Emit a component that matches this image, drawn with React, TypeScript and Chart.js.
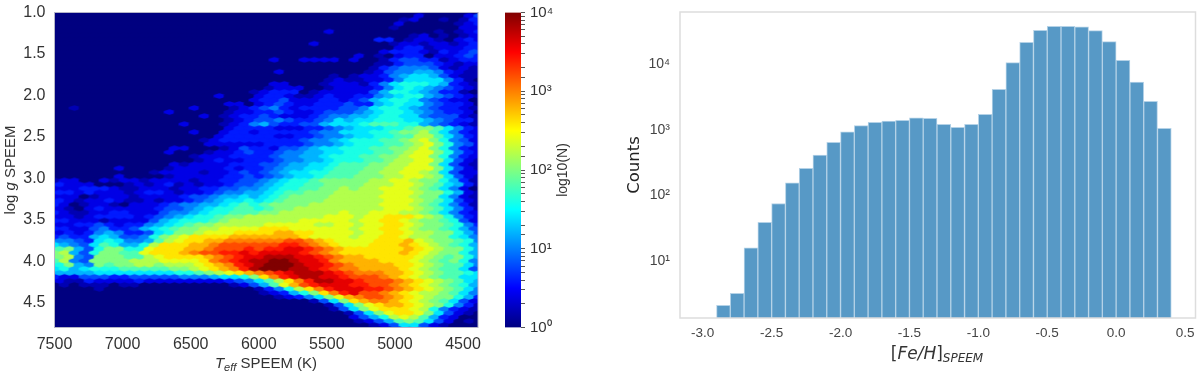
import React, { useEffect, useRef } from "react";
import { Chart, registerables } from "chart.js";

Chart.register(...registerables);

// ---------- left panel: hexbin levels, one character per cell (base 36), level / 20 = log10(N) / 4
const hexRows = [
  "0000000000 0000000000 0000000000 0000000000 000",
  "0000000000 0000000000 0000000000 0000002000 024",
  "0000000000 0000000000 0000000000 0000012001 013",
  "0000000000 0000000000 0000000000 0000200000 123",
  "0000000000 0000000000 0000000000 0000100000 022",
  "0000000000 0000000000 0000000200 0000000010 123",
  "0000000000 0000000000 0000000000 0000001201 012",
  "0000000000 0000000000 0000000000 0033012210 232",
  "0000000000 0000000000 0000002000 0000122122 123",
  "0000000000 0000000000 0000000000 0000233122 233",
  "0000000000 0000000000 0000000000 0002333213 234",
  "0000000000 0000000000 0000000000 2010233022 343",
  "0000000000 0000000000 0020022220 2001344331 233",
  "0000000000 0000000000 0000000000 0011344432 122",
  "0000000000 0000000000 0000000000 0013455542 121",
  "0000000000 0000000000 0020000000 0124556653 211",
  "0000000000 0000000000 0000000010 1223567764 211",
  "0000000000 0000000000 0000000121 1223577775 310",
  "0000000000 0000000000 0022000122 2135788876 321",
  "0000000000 0000000000 0122200122 2235787654 321",
  "0000000000 0000000000 1233301222 2246887653 310",
  "0000000000 0000002000 2332112322 3356788654 321",
  "0000000000 0000000000 2334222332 3467887543 220",
  "0000000000 0000000220 2343223334 3367877543 320",
  "0010000000 0000200012 3453233334 4578876543 321",
  "0000000000 0200000122 3343223444 5678876543 320",
  "0000000000 0000020123 3432223455 6678877544 421",
  "0000000000 0000000123 4454334576 7788877654 331",
  "0000000000 0002000123 5643344677 7899988654 321",
  "0000000000 0000000233 3322233456 777889aa97 532",
  "0000000000 0000200233 2333334557 77889aab97 532",
  "0000000000 0000002333 3322334556 778899bb97 532",
  "0000000000 0000012333 3333345567 88899abca8 542",
  "0000000000 0000022222 2333345567 88899abca8 542",
  "0000000000 0022000124 3324456778 8899aabca8 532",
  "0000000000 0200012234 3345566778 8899abcca8 532",
  "0000000000 0000122233 3345566788 899aabcca8 532",
  "0000000000 0000123223 3345566788 899abbcca7 421",
  "0000000000 0021222233 3445667789 99aabbcca7 421",
  "0000002000 0122222323 3456677899 9aabbccca7 421",
  "0000000000 1222212234 3456778899 9aabbccba7 422",
  "0000002000 0122222334 3456778999 aaabbccba7 421",
  "1220021221 2222122334 4567889aaa aabbccbaa8 631",
  "3222000121 2312122344 5678899aaa abbbccba97 631",
  "2223332112 2212233445 5678899aab abbcccba97 520",
  "3323222123 3212234556 67899aaabb bbbcccbaa8 621",
  "2220122212 2223445667 6789aaaabb bbbcccbaa7 521",
  "3212232112 1223456778 789aaaabbb bbbcccba97 421",
  "3201221022 2345566789 89aaaabbbb bbbcccba97 531",
  "2102322222 3445678899 89aabbbbbb bbbcccba97 531",
  "3211223322 2455678899 9aabbbbbbc bbcccbba97 532",
  "2212333323 4567889aab bbbbbbbccc bccdddcba8 532",
  "3322212222 4678889abb bbbbbccccc bccddcbaa9 842",
  "2233432335 6789aabbbb bcccccbbcc bccddcbaa9 853",
  "3322453346 789aabbccc cdddcccccc bccddcbaa9 864",
  "2323565334 78aabcccdd ddeeddcccc bccddcbbaa 864",
  "3433676445 8abcddddee eeeeedcccc bccddcbbaa 875",
  "5543787556 9bcddeefff fffggfedcc ccdddecbaa 985",
  "7654798668 bdddeefggg ggghhgfedc ccdddedcba 986",
  "9a648aa88c dddeefgggh ghhiihgfed dddddedcba a86",
  "ab648aa99c dddefgghhi hiiiihgfed dddddedcba a86",
  "ab54aaa99b cddddefghi ijjjiihgfe edddddcba9 a86",
  "9b54aaaabb bccccdfghi jjkkjiihfe eeedddcba9 a85",
  "8a65a9aabb abbbcdefhi jkkkjiihgf eeeeddcba9 975",
  "7867888999 99aabcdefh jkkkjjihgf feeeedcba9 974",
  "6666777777 77889abcde fghijjjihg fffeedcba9 987",
  "3224443344 4445556778 adfhijjiih gggfedcba9 977",
  "2113222232 2222222345 79bdfhjjii hgggfedcba 976",
  "0101110110 0000000012 469ceghiii hhggfedcba 986",
  "0000100000 0000000000 1358bdfhii ihhgfedcba 975",
  "0000000000 0000000000 012368adfh iggfedcbba 975",
  "0000000000 0000000000 0012357ace fggfedcbaa 863",
  "0000000000 0000000000 000000147a deffedcba9 742",
  "0000000000 0000000000 0000000147 acdeedcba8 531",
  "0000000000 0000000000 0000000014 7acdddcb85 321",
  "0000000000 0000000000 0000000001 47acddca74 210",
  "0000000000 0000000000 0000000000 2468bcb963 200",
  "0000000000 0000000000 0000000000 12469a9742 010",
  "0000000000 0000000000 0000000000 0012477421 000",
  "0000000000 0000000000 0000000000 0001365320 000",
];
const teffStart = 7500;
const teffStep = 73.4;
const loggStart = 1.0;
const loggStep = 0.0485;
const teffTicks = [7500, 7000, 6500, 6000, 5500, 5000, 4500];
const loggTicks = [1.0, 1.5, 2.0, 2.5, 3.0, 3.5, 4.0, 4.5];

// ---------- colour bar
const colorbarRange = [1, 10000];
const colorbarDecades = ["10⁰", "10¹", "10²", "10³", "10⁴"];

// ---------- right panel: histogram
const fehBins = [
  -2.9, -2.8, -2.7, -2.6, -2.5, -2.4, -2.3, -2.2, -2.1, -2.0, -1.9, -1.8, -1.7, -1.6, -1.5, -1.4, -1.3,
  -1.2, -1.1, -1.0, -0.9, -0.8, -0.7, -0.6, -0.5, -0.4, -0.3, -0.2, -0.1, 0.0, 0.1, 0.2, 0.3,
];
const fehCounts = [
  2.1, 3.2, 15.8, 38.6, 75, 155, 257, 410, 640, 930, 1150, 1290, 1350, 1390, 1520, 1490, 1205,
  1085, 1205, 1710, 4110, 10470, 21400, 32700, 37600, 37600, 37000, 32200, 21900, 11400, 5320, 2700, 1047,
];
const fehWidth = 0.1;
const countTicks = [10, 100, 1000, 10000];
const countLabels: Record<number, string> = { 10: "10¹", 100: "10²", 1000: "10³", 10000: "10⁴" };

const SANS = "'Liberation Sans', Arial, sans-serif";
const DEJAVU = "'DejaVu Sans', sans-serif";

function jet(t: number): string {
  const c = (v: number) => Math.round(255 * Math.max(0, Math.min(1, v)));
  const r = 1.5 - Math.abs(4 * t - 3);
  const g = 1.5 - Math.abs(4 * t - 2);
  const b = 1.5 - Math.abs(4 * t - 1);
  return `rgb(${c(r)},${c(g)},${c(b)})`;
}

function hexSprite(color: string): HTMLCanvasElement {
  const w = 14;
  const h = 10;
  const cv = document.createElement("canvas");
  cv.width = w;
  cv.height = h;
  const g = cv.getContext("2d")!;
  const cx = w / 2;
  const cy = h / 2;
  g.beginPath();
  g.moveTo(cx + 5.7, cy - 1.9);
  g.lineTo(cx + 5.7, cy + 1.9);
  g.lineTo(cx, cy + 3.8);
  g.lineTo(cx - 5.7, cy + 1.9);
  g.lineTo(cx - 5.7, cy - 1.9);
  g.lineTo(cx, cy - 3.8);
  g.closePath();
  g.fillStyle = color;
  g.fill();
  return cv;
}

type Run = { text: string; font: string; dy?: number };

function drawRuns(ctx: CanvasRenderingContext2D, x: number, y: number, runs: Run[], color: string, rotate = false) {
  ctx.save();
  ctx.translate(x, y);
  if (rotate) ctx.rotate(-Math.PI / 2);
  ctx.fillStyle = color;
  ctx.textBaseline = "alphabetic";
  ctx.textAlign = "left";
  let total = 0;
  for (const r of runs) {
    ctx.font = r.font;
    total += ctx.measureText(r.text).width;
  }
  let p = -total / 2;
  for (const r of runs) {
    ctx.font = r.font;
    ctx.fillText(r.text, p, r.dy ?? 0);
    p += ctx.measureText(r.text).width;
  }
  ctx.restore();
}

function framePlugin(color: string, width: number, fill?: string) {
  return {
    id: "frame",
    beforeDatasetsDraw(chart: any) {
      if (!fill) return;
      const { ctx, chartArea: a } = chart;
      ctx.save();
      ctx.fillStyle = fill;
      ctx.fillRect(a.left, a.top, a.right - a.left, a.bottom - a.top);
      ctx.restore();
    },
    afterDatasetsDraw(chart: any) {
      const { ctx, chartArea: a } = chart;
      ctx.save();
      ctx.strokeStyle = color;
      ctx.lineWidth = width;
      ctx.strokeRect(a.left, a.top, a.right - a.left, a.bottom - a.top);
      ctx.restore();
    },
  };
}

function titlesPlugin(draw: (ctx: CanvasRenderingContext2D) => void) {
  return {
    id: "titles",
    afterDraw(chart: any) {
      draw(chart.ctx);
    },
  };
}

function pinBox(s: any, size: { width?: number; height?: number }) {
  if (size.width !== undefined) s.width = size.width;
  if (size.height !== undefined) s.height = size.height;
  s.paddingTop = 0;
  s.paddingBottom = 0;
  s.paddingLeft = 0;
  s.paddingRight = 0;
}

export default function App() {
  const hexRef = useRef<HTMLCanvasElement>(null);
  const barRef = useRef<HTMLCanvasElement>(null);
  const histRef = useRef<HTMLCanvasElement>(null);

  useEffect(() => {
    const sprites = Array.from({ length: 21 }, (_, i) => hexSprite(jet(i / 20)));
    const cells: { x: number; y: number; level: number }[] = [];
    hexRows.forEach((row, k) => {
      const chars = row.replace(/ /g, "");
      for (let i = 0; i < chars.length; i++) {
        const shift = k % 2 === 1 ? 0.5 : 0;
        cells.push({
          x: teffStart - (i + shift) * teffStep,
          y: loggStart + k * loggStep,
          level: parseInt(chars[i], 36),
        });
      }
    });

    const hexChart = new Chart(hexRef.current!, {
      type: "scatter",
      data: {
        datasets: [
          {
            data: cells as any,
            clip: 0 as any,
            pointStyle: ((c: any) => sprites[(c.raw && c.raw.level) || 0]) as any,
            pointRadius: 5,
            pointHoverRadius: 5,
          },
        ],
      },
      options: {
        animation: false,
        responsive: false,
        events: [],
        layout: { padding: { top: 12.5, right: 17, left: 0, bottom: 0 } },
        plugins: { legend: { display: false }, tooltip: { enabled: false } },
        scales: {
          x: {
            type: "linear",
            reverse: true,
            min: 4390,
            max: 7500,
            afterBuildTicks: (s: any) => {
              s.ticks = teffTicks.map((value) => ({ value }));
            },
            afterFit: (s: any) => pinBox(s, { height: 48.5 }),
            grid: { display: false, drawTicks: false },
            border: { display: false },
            ticks: {
              font: { family: SANS, size: 16 },
              color: "#333333",
              padding: 7,
              maxRotation: 0,
              callback: (v: any) => String(v),
            },
          },
          y: {
            type: "linear",
            reverse: true,
            min: 1,
            max: 4.8,
            afterBuildTicks: (s: any) => {
              s.ticks = loggTicks.map((value) => ({ value }));
            },
            afterFit: (s: any) => pinBox(s, { width: 54.5 }),
            grid: { display: false, drawTicks: false },
            border: { display: false },
            ticks: {
              font: { family: SANS, size: 16 },
              color: "#333333",
              padding: 9,
              callback: (v: any) => Number(v).toFixed(1),
            },
          },
        },
      },
      plugins: [
        framePlugin("#b4b4c8", 1, "#00007f"),
        titlesPlugin((ctx) => {
          drawRuns(
            ctx,
            266,
            368,
            [
              { text: "T", font: `italic 15px ${SANS}` },
              { text: "eff", font: `italic 11px ${SANS}`, dy: 3 },
              { text: " SPEEM (K)", font: `15px ${SANS}` },
            ],
            "#333333"
          );
          drawRuns(
            ctx,
            15,
            170,
            [
              { text: "log ", font: `15px ${SANS}` },
              { text: "g", font: `italic 15px ${SANS}` },
              { text: " SPEEM", font: `15px ${SANS}` },
            ],
            "#333333",
            true
          );
        }),
      ],
    } as any);

    const barChart = new Chart(barRef.current!, {
      type: "bar",
      data: {
        labels: ["N"],
        datasets: [
          {
            data: [colorbarRange as any],
            barPercentage: 1,
            categoryPercentage: 1,
            backgroundColor: (c: any) => {
              const a = c.chart.chartArea;
              if (!a) return "#000080";
              const g = c.chart.ctx.createLinearGradient(0, a.bottom, 0, a.top);
              for (let i = 0; i <= 32; i++) g.addColorStop(i / 32, jet(i / 32));
              return g;
            },
          },
        ],
      },
      options: {
        animation: false,
        responsive: false,
        events: [],
        layout: { padding: { top: 12.5, bottom: 48.5, left: 10, right: 0 } },
        plugins: { legend: { display: false }, tooltip: { enabled: false } },
        scales: {
          x: { display: false },
          y: {
            type: "logarithmic",
            position: "right",
            min: colorbarRange[0],
            max: colorbarRange[1],
            afterFit: (s: any) => pinBox(s, { width: 99 }),
            grid: { display: true, drawOnChartArea: false, drawTicks: true, tickLength: 4, color: "#555555" },
            border: { display: false },
            ticks: {
              autoSkip: false,
              font: { family: SANS, size: 15 },
              color: "#333333",
              padding: 5,
              callback: (v: any) => {
                const e = Math.log10(Number(v));
                return Math.abs(e - Math.round(e)) < 1e-9 ? colorbarDecades[Math.round(e)] : "";
              },
            },
          },
        },
      },
      plugins: [
        titlesPlugin((ctx) => {
          drawRuns(ctx, 72, 170, [{ text: "log10(N)", font: `14px ${SANS}` }], "#333333", true);
        }),
      ],
    } as any);

    const histChart = new Chart(histRef.current!, {
      type: "bar",
      data: {
        datasets: [
          {
            data: fehBins.map((b, i) => ({ x: b + fehWidth / 2, y: fehCounts[i] })) as any,
            barPercentage: 1,
            categoryPercentage: 1,
            backgroundColor: "#5799c6",
            borderColor: "#b4d2e7",
            borderWidth: 1,
          },
        ],
      },
      options: {
        animation: false,
        responsive: false,
        events: [],
        layout: { padding: { top: 12, right: 4.5, left: 5, bottom: 0 } },
        plugins: { legend: { display: false }, tooltip: { enabled: false } },
        scales: {
          x: {
            type: "linear",
            offset: false,
            min: -3.165,
            max: 0.576,
            afterBuildTicks: (s: any) => {
              s.ticks = [-3, -2.5, -2, -1.5, -1, -0.5, 0, 0.5].map((value) => ({ value }));
            },
            afterFit: (s: any) => pinBox(s, { height: 58 }),
            grid: { display: false, drawTicks: false },
            border: { display: false },
            ticks: {
              font: { family: SANS, size: 13.5 },
              color: "#444444",
              padding: 7,
              maxRotation: 0,
              callback: (v: any) => Number(v).toFixed(1),
            },
          },
          y: {
            type: "logarithmic",
            min: 1.35,
            max: 62000,
            afterBuildTicks: (s: any) => {
              s.ticks = countTicks.map((value) => ({ value }));
            },
            afterFit: (s: any) => pinBox(s, { width: 55 }),
            grid: { display: false, drawTicks: false },
            border: { display: false },
            title: { display: true, text: "Counts", font: { family: DEJAVU, size: 16.5 }, color: "#222222", padding: 0 },
            ticks: {
              font: { family: SANS, size: 14 },
              color: "#444444",
              padding: 10,
              callback: (v: any) => countLabels[Number(v)] ?? "",
            },
          },
        },
      },
      plugins: [
        framePlugin("#dddddd", 1.5),
        titlesPlugin((ctx) => {
          drawRuns(
            ctx,
            317,
            359,
            [
              { text: "[", font: `17px ${DEJAVU}` },
              { text: "Fe/H", font: `italic 17px ${DEJAVU}` },
              { text: "]", font: `17px ${DEJAVU}` },
              { text: "SPEEM", font: `italic 12px ${DEJAVU}`, dy: 3 },
            ],
            "#333333"
          );
        }),
      ],
    } as any);

    return () => {
      hexChart.destroy();
      barChart.destroy();
      histChart.destroy();
    };
  }, []);

  const soft = "blur(0.4px)";
  return (
    <div style={{ position: "fixed", left: 0, top: 0, width: 1200, height: 376, background: "#ffffff", overflow: "hidden" }}>
      <canvas ref={hexRef} width={495} height={376} style={{ position: "absolute", left: 0, top: 0, width: 495, height: 376, filter: soft }} />
      <canvas ref={barRef} width={125} height={376} style={{ position: "absolute", left: 495, top: 0, width: 125, height: 376, filter: soft }} />
      <canvas ref={histRef} width={580} height={376} style={{ position: "absolute", left: 620, top: 0, width: 580, height: 376, filter: soft }} />
    </div>
  );
}
